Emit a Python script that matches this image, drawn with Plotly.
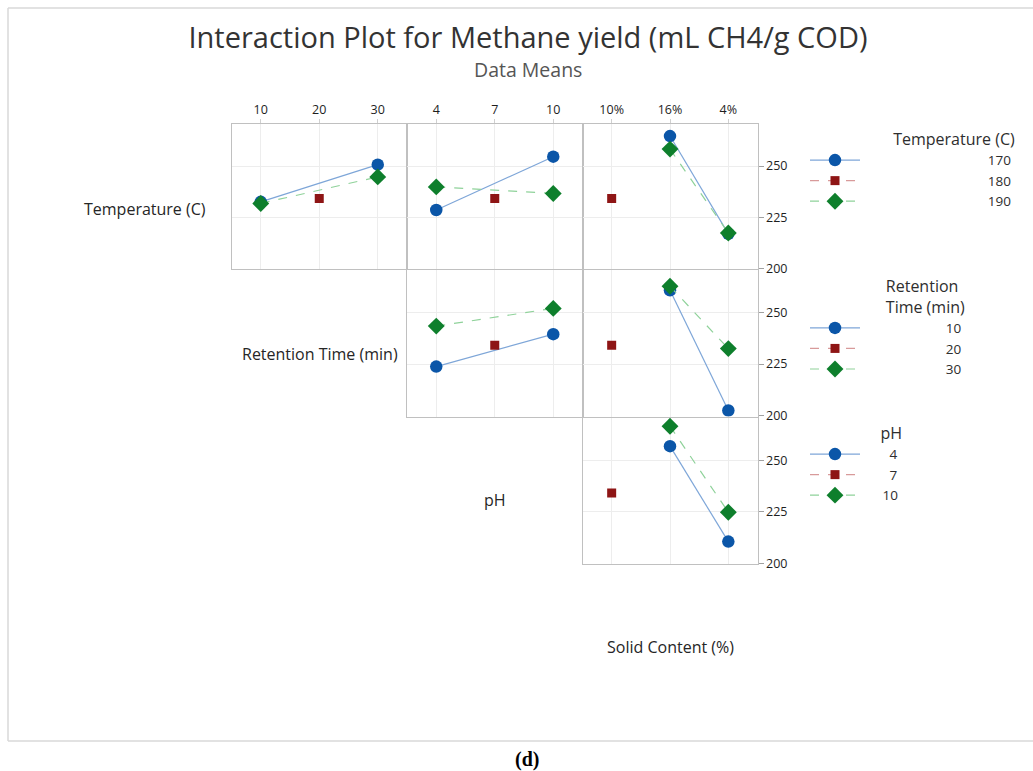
import plotly.graph_objects as go

W, H = 1033, 771

# ---------------- data (means) ----------------
ret_levels = ["10", "20", "30"]          # Retention Time (min)
ph_levels = ["4", "7", "10"]             # pH
solid_levels = ["10%", "16%", "4%"]      # Solid Content (%)

temp_names = ["170", "180", "190"]       # Temperature (C)
ret_names = ["10", "20", "30"]
ph_names = ["4", "7", "10"]

# Row 1: grouped by Temperature
t170_by_ret = [232.5, None, 250.7]
t180_by_ret = [None, 234.1, None]
t190_by_ret = [231.7, None, 244.7]

t170_by_ph = [228.5, None, 254.6]
t180_by_ph = [None, 234.1, None]
t190_by_ph = [239.8, None, 236.6]

t170_by_solid = [None, 264.7, 216.8]
t180_by_solid = [234.1, None, None]
t190_by_solid = [None, 258.3, 217.2]

# Row 2: grouped by Retention Time
r10_by_ph = [223.8, None, 239.5]
r20_by_ph = [None, 234.1, None]
r30_by_ph = [243.4, None, 252.0]

r10_by_solid = [None, 260.8, 202.5]
r20_by_solid = [234.1, None, None]
r30_by_solid = [None, 262.7, 232.5]

# Row 3: grouped by pH
p4_by_solid = [None, 256.9, 210.5]
p7_by_solid = [234.1, None, None]
p10_by_solid = [None, 266.6, 224.8]

y_ticks = [200, 225, 250]


def px(x):
    return x / W


def py(y):
    return 1 - y / H


FONT = "Open Sans, Noto Sans, DejaVu Sans, sans-serif"
TXT = "#2E2E2E"

styles = [
    dict(marker=dict(color="#0B56A8", symbol="circle", size=12.5, line=dict(width=0)),
         line=dict(color="#7EA6D8", width=1.2, dash="solid")),
    dict(marker=dict(color="#8E1515", symbol="square", size=9, line=dict(width=0)),
         line=dict(color="#D89A9A", width=1.2, dash="dash")),
    dict(marker=dict(color="#0E7F2C", symbol="diamond", size=13, line=dict(width=0)),
         line=dict(color="#8FD29A", width=1.2, dash="dash")),
]

col_x = [(231.5, 407), (407, 582.5), (582.5, 757.5)]
row_y = [(124, 269), (270, 416.5), (418, 564)]

# (id, x-domain px, y-domain px, categories, series, names, legend, right labels, top labels)
panels = [
    (1, col_x[0], row_y[0], ret_levels, [t170_by_ret, t180_by_ret, t190_by_ret], temp_names, "legend", False, True),
    (2, col_x[1], row_y[0], ph_levels, [t170_by_ph, t180_by_ph, t190_by_ph], temp_names, None, False, True),
    (3, col_x[2], row_y[0], solid_levels, [t170_by_solid, t180_by_solid, t190_by_solid], temp_names, None, True, True),
    (4, col_x[1], row_y[1], ph_levels, [r10_by_ph, r20_by_ph, r30_by_ph], ret_names, "legend2", False, False),
    (5, col_x[2], row_y[1], solid_levels, [r10_by_solid, r20_by_solid, r30_by_solid], ret_names, None, True, False),
    (6, col_x[2], row_y[2], solid_levels, [p4_by_solid, p7_by_solid, p10_by_solid], ph_names, "legend3", True, False),
]

# padding so legend labels end flush right like the reference
NB = "\u00a0"
legend_pad = {
    "legend": [NB * 35, NB * 35, NB * 35],
    "legend2": [NB * 23, NB * 23, NB * 23],
    "legend3": [NB * 7, NB * 7, NB * 5],
}

fig = go.Figure()
layout = {}

for pid, xd, yd, cats, series, names, leg, right_lbl, top_lbl in panels:
    sfx = "" if pid == 1 else str(pid)
    for k, (vals, nm, st) in enumerate(zip(series, names, styles)):
        label = (legend_pad[leg][k] + nm) if leg else nm
        fig.add_trace(go.Scatter(
            x=cats, y=vals, mode="lines+markers", connectgaps=True,
            name=label, marker=st["marker"], line=st["line"],
            xaxis="x" + sfx, yaxis="y" + sfx,
            showlegend=leg is not None, legend=leg if leg else "legend",
            hoverinfo="x+y+name",
        ))
    layout["xaxis" + sfx] = dict(
        domain=[px(xd[0]), px(xd[1])], anchor="y" + sfx,
        type="category", categoryorder="array", categoryarray=cats,
        range=[-0.5, 2.5], showgrid=True, gridcolor="#EDEDED", gridwidth=1,
        showline=True, mirror=True, linecolor="#C0C0C0", linewidth=1,
        zeroline=False, side="top",
        showticklabels=top_lbl, ticks="outside" if top_lbl else "",
        ticklen=4, tickcolor="#D0D0D0",
        tickfont=dict(family=FONT, size=12.5, color="#1E1E1E"),
        fixedrange=True,
    )
    layout["yaxis" + sfx] = dict(
        domain=[py(yd[1]), py(yd[0])], anchor="x" + sfx,
        range=[199.6, 270.6], tickvals=y_ticks,
        showgrid=True, gridcolor="#EDEDED", gridwidth=1,
        showline=True, mirror=True, linecolor="#C0C0C0", linewidth=1,
        zeroline=False, side="right",
        showticklabels=right_lbl, ticks="outside" if right_lbl else "",
        ticklen=5, tickcolor="#A0A0A0",
        tickfont=dict(family=FONT, size=12.5, color="#1E1E1E"),
        fixedrange=True,
    )

leg_common = dict(
    xanchor="left", yanchor="top", itemwidth=50,
    font=dict(family=FONT, size=13.5, color=TXT),
    bgcolor="rgba(0,0,0,0)", borderwidth=0, tracegroupgap=0,
    itemclick=False, itemdoubleclick=False,
)
TITLE_FONT = dict(family=FONT, size=16, color=TXT)
layout["legend"] = dict(leg_common, x=px(805), y=py(124),
                        title=dict(text="Temperature (C)", side="top right", font=TITLE_FONT))
layout["legend2"] = dict(leg_common, x=px(805), y=py(271),
                         title=dict(text="Retention<br>Time (min)", side="top right", font=TITLE_FONT))
layout["legend3"] = dict(leg_common, x=px(805), y=py(418),
                         title=dict(text="pH", side="top right", font=TITLE_FONT))

LBL = dict(family=FONT, size=16, color="#262626")
annotations = [
    dict(text="Data Means", x=px(528), y=py(69.5), font=dict(family=FONT, size=19.5, color="#555555")),
    dict(text="Temperature (C)", x=px(145), y=py(209), font=LBL),
    dict(text="Retention Time (min)", x=px(320), y=py(354), font=LBL),
    dict(text="pH", x=px(495), y=py(500), font=LBL),
    dict(text="Solid Content (%)", x=px(670), y=py(647), font=LBL),
    dict(text="<b>(d)</b>", x=px(527), y=py(759),
         font=dict(family="Liberation Serif, DejaVu Serif, serif", size=20, color="#000000")),
]
for a in annotations:
    a.update(xref="paper", yref="paper", showarrow=False, xanchor="center", yanchor="middle")

FRAME = dict(color="#D9D9D9", width=1.5)
shapes = [
    dict(type="line", xref="paper", yref="paper", x0=px(8), x1=1.0, y0=py(8), y1=py(8), line=FRAME),
    dict(type="line", xref="paper", yref="paper", x0=px(8), x1=1.0, y0=py(741), y1=py(741), line=FRAME),
    dict(type="line", xref="paper", yref="paper", x0=px(8), x1=px(8), y0=py(8), y1=py(741), line=FRAME),
]

fig.update_layout(
    width=W, height=H,
    margin=dict(l=0, r=0, t=0, b=0, pad=0, autoexpand=False),
    paper_bgcolor="white", plot_bgcolor="white",
    font=dict(family=FONT, color=TXT),
    title=dict(text="Interaction Plot for Methane yield (mL CH4/g COD)",
               x=px(528), xanchor="center", xref="paper",
               y=py(38), yanchor="middle", yref="container",
               font=dict(family=FONT, size=29, color="#333333")),
    annotations=annotations,
    shapes=shapes,
    hovermode="closest",
    **layout,
)

fig.write_html("out.html", config={"displayModeBar": False},
               post_script="document.body.style.margin='0px';")
